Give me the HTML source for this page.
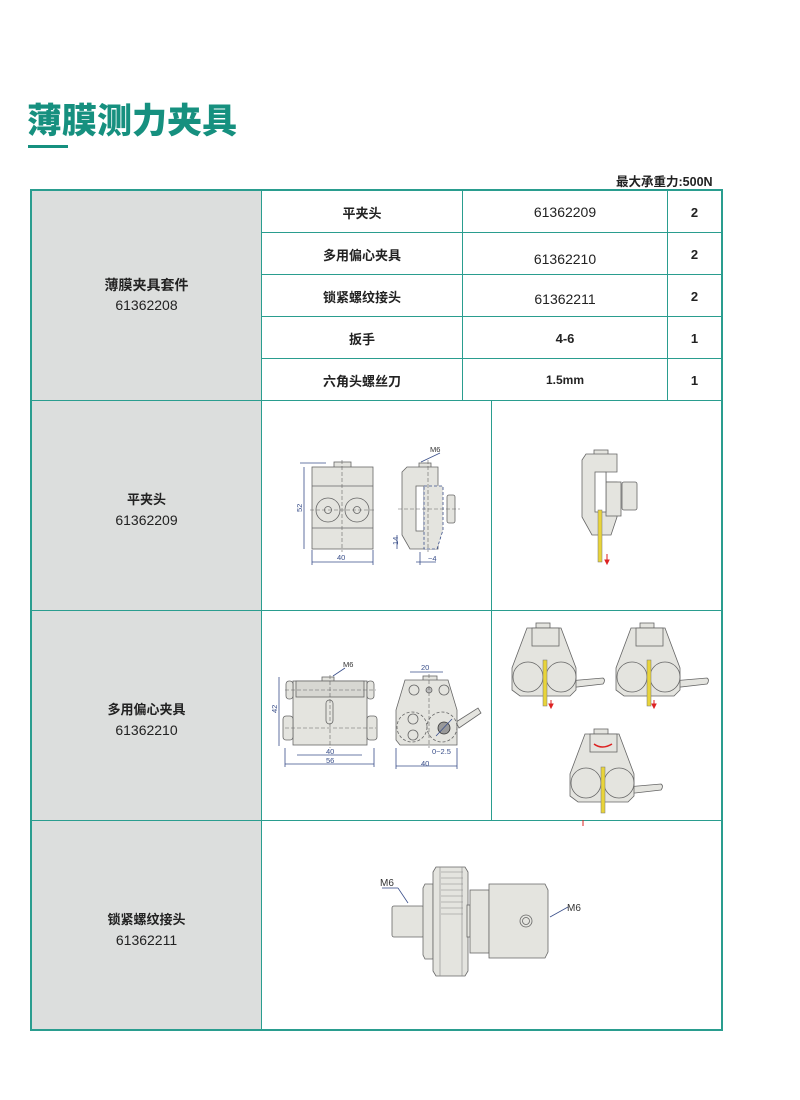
<!DOCTYPE html>
<html><head><meta charset="utf-8">
<style>
*{margin:0;padding:0;box-sizing:border-box}
body{width:800px;height:1100px;background:#fff;position:relative;overflow:hidden;font-family:"Liberation Sans","Noto Sans CJK SC",sans-serif;color:#222}
.a{position:absolute}
.t{position:absolute;display:flex;align-items:center;justify-content:center;text-align:center;font-size:13px}
.b{font-weight:bold}
.g{background:#dcdedd}
.h{position:absolute;background:#2a9d8f;height:1px}
.v{position:absolute;background:#2a9d8f;width:1px}
svg{position:absolute;left:0;top:0}
</style></head><body>
<div class="a b" style="left:27px;top:93px;font-size:35px;color:#16907f;font-family:'Liberation Sans','Noto Sans CJK SC',sans-serif;font-weight:900">薄膜测力夹具</div>
<div class="a" style="left:28px;top:145px;width:40px;height:3px;background:#16907f"></div>
<div class="a b" style="left:616px;top:171px;font-size:12.5px">最大承重力:500N</div>

<div class="a g" style="left:31px;top:190px;width:230px;height:840px"></div>

<div class="h" style="left:30px;top:189px;width:693px;height:2px"></div>
<div class="h" style="left:30px;top:1029px;width:693px;height:2px"></div>
<div class="v" style="left:30px;top:189px;height:842px;width:2px"></div>
<div class="v" style="left:721px;top:189px;height:842px;width:2px"></div>
<div class="v" style="left:261px;top:189px;height:842px"></div>
<div class="h" style="left:30px;top:400px;width:693px"></div>
<div class="h" style="left:30px;top:610px;width:693px"></div>
<div class="h" style="left:30px;top:820px;width:693px"></div>
<div class="h" style="left:261px;top:232px;width:461px"></div>
<div class="h" style="left:261px;top:274px;width:461px"></div>
<div class="h" style="left:261px;top:316px;width:461px"></div>
<div class="h" style="left:261px;top:358px;width:461px"></div>
<div class="v" style="left:462px;top:189px;height:211px"></div>
<div class="v" style="left:667px;top:189px;height:211px"></div>
<div class="v" style="left:491px;top:400px;height:420px"></div>

<div class="t" style="left:32px;top:270px;width:229px;height:50px;flex-direction:column;font-size:14px;line-height:20px"><span class="b">薄膜夹具套件</span><span>61362208</span></div>
<div class="t b" style="left:262px;top:191px;width:200px;height:42px">平夹头</div>
<div class="t" style="left:463px;top:191px;width:204px;height:42px;font-size:14px">61362209</div>
<div class="t b" style="left:668px;top:191px;width:53px;height:42px">2</div>
<div class="t b" style="left:262px;top:233px;width:200px;height:42px">多用偏心夹具</div>
<div class="t" style="left:463px;top:238px;width:204px;height:42px;font-size:14px">61362210</div>
<div class="t b" style="left:668px;top:233px;width:53px;height:42px">2</div>
<div class="t b" style="left:262px;top:275px;width:200px;height:42px">锁紧螺纹接头</div>
<div class="t" style="left:463px;top:278px;width:204px;height:42px;font-size:14px">61362211</div>
<div class="t b" style="left:668px;top:275px;width:53px;height:42px">2</div>
<div class="t b" style="left:262px;top:317px;width:200px;height:42px">扳手</div>
<div class="t b" style="left:463px;top:317px;width:204px;height:42px">4-6</div>
<div class="t b" style="left:668px;top:317px;width:53px;height:42px">1</div>
<div class="t b" style="left:262px;top:359px;width:200px;height:42px">六角头螺丝刀</div>
<div class="t b" style="left:463px;top:359px;width:204px;height:42px;font-size:12px">1.5mm</div>
<div class="t b" style="left:668px;top:359px;width:53px;height:42px">1</div>

<div class="t" style="left:32px;top:488px;width:229px;height:44px;flex-direction:column;font-size:14px;line-height:20px"><span class="b" style="font-size:13px">平夹头</span><span>61362209</span></div>
<div class="t" style="left:32px;top:698px;width:229px;height:44px;flex-direction:column;font-size:14px;line-height:20px"><span class="b" style="font-size:13px">多用偏心夹具</span><span>61362210</span></div>
<div class="t" style="left:32px;top:908px;width:229px;height:44px;flex-direction:column;font-size:14px;line-height:20px"><span class="b" style="font-size:13px">锁紧螺纹接头</span><span>61362211</span></div>

<svg width="800" height="1100" viewBox="0 0 800 1100" font-family="Liberation Sans, sans-serif">
<g fill="#e4e4df" stroke="#666" stroke-width="0.8">
 <rect x="334" y="462" width="17" height="6"/>
 <rect x="312" y="467" width="61" height="82"/>
 <line x1="312" y1="486" x2="373" y2="486"/><line x1="312" y1="528" x2="373" y2="528"/>
 <circle cx="328" cy="510" r="12"/><circle cx="357" cy="510" r="12"/>
 <circle cx="328" cy="510" r="3.5"/><circle cx="357" cy="510" r="3.5"/>
 <rect x="419" y="463" width="12" height="5"/>
 <path d="M407 467 H438 V549 H410 L402 535 V472 Z"/>
 <rect x="416" y="486" width="8" height="45" fill="#fff"/>
 <path d="M424 486 H443 V530 L437 549 H424 Z" fill="#e4e4df" stroke="#3a4f8a" stroke-dasharray="3,2"/>
 <rect x="447" y="495" width="8" height="28" rx="2"/>
 <rect x="594" y="450" width="14" height="5"/>
 <path d="M586 454 H617 V472 H606 V482 H617 V517 L611 535 H592 L582 517 V460 Z"/>
 <rect x="606" y="482" width="15" height="34"/>
 <rect x="622" y="482" width="15" height="28" rx="2"/>
 <rect x="595" y="472" width="11" height="40" fill="#fff"/>
 <rect x="322" y="677" width="12" height="5"/>
 <rect x="293" y="681" width="74" height="64"/>
 <rect x="296" y="681" width="68" height="16" fill="#d7d7d2"/>
 <rect x="286" y="681" width="7" height="18" rx="3"/><rect x="367" y="681" width="7" height="18" rx="3"/>
 <rect x="283" y="716" width="10" height="24" rx="3"/><rect x="367" y="716" width="10" height="24" rx="3"/>
 <rect x="326" y="700" width="7" height="24" rx="3.5"/>
 <path d="M456 722 L478 708 L481 713 L459 728 Z"/>
 <rect x="423" y="676" width="14" height="5"/>
 <path d="M405 680 H448 L457 710 V745 H400 L396 740 V710 Z"/>
 <circle cx="414" cy="690" r="5"/><circle cx="444" cy="690" r="5"/><circle cx="429" cy="690" r="3" fill="#bbb"/>
 <circle cx="413" cy="719" r="5"/><circle cx="413" cy="735" r="5"/>
 <circle cx="444" cy="728" r="6" fill="#999" stroke="#333"/>
 <circle cx="412" cy="727" r="15" fill="none" stroke-dasharray="3,2"/>
 <circle cx="442" cy="727" r="15" fill="none" stroke-dasharray="3,2"/>
 <g id="c1">
  <path d="M568 681 L603 678 Q606 680 603 684 L568 688 Z"/>
  <rect x="536" y="623" width="14" height="5"/>
  <path d="M527 628 H561 L576 668 V690 L570 696 H520 L512 690 V668 Z"/>
  <rect x="532" y="628" width="27" height="18"/>
  <circle cx="528" cy="677" r="15"/><circle cx="561" cy="677" r="15"/>
 </g>
 <use href="#c1" x="104"/>
 <use href="#c1" x="58" y="106"/>
 <rect x="392" y="906" width="32" height="31" rx="2"/>
 <path d="M425 884 H433 V959 H425 L423 955 V888 Z"/>
 <path d="M436 867 H465 L468 872 V971 L465 976 H436 L433 971 V872 Z"/>
 <rect x="467" y="905" width="4" height="32"/>
 <rect x="470" y="890" width="19" height="63"/>
 <path d="M489 884 H545 L548 890 V952 L545 958 H489 Z"/>
 <circle cx="526" cy="921" r="6" fill="none"/><circle cx="526" cy="921" r="3.5" fill="none"/>
</g>
<g stroke="#888" stroke-width="0.6">
 <line x1="441" y1="872" x2="463" y2="872"/><line x1="441" y1="878" x2="463" y2="878"/><line x1="441" y1="884" x2="463" y2="884"/><line x1="441" y1="890" x2="463" y2="890"/><line x1="441" y1="896" x2="463" y2="896"/><line x1="441" y1="902" x2="463" y2="902"/><line x1="441" y1="908" x2="463" y2="908"/><line x1="441" y1="914" x2="463" y2="914"/>
 <line x1="440" y1="867" x2="440" y2="976"/><line x1="462" y1="867" x2="462" y2="976"/>
</g>
<g stroke="#666" stroke-width="0.6" stroke-dasharray="4,2" fill="none">
 <line x1="342" y1="460" x2="342" y2="552"/><line x1="310" y1="510" x2="375" y2="510"/>
 <line x1="428" y1="460" x2="428" y2="552"/><line x1="398" y1="509" x2="460" y2="509"/>
 <line x1="330" y1="675" x2="330" y2="748"/><line x1="285" y1="690" x2="376" y2="690"/><line x1="285" y1="728" x2="376" y2="728"/>
 <line x1="429" y1="674" x2="429" y2="748"/>
</g>
<g fill="#e8d43a" stroke="#777" stroke-width="0.5">
 <rect x="598" y="510" width="4" height="52"/>
 <rect x="543" y="660" width="4" height="46"/>
 <rect x="647" y="660" width="4" height="46"/>
 <rect x="601" y="767" width="4" height="46"/>
</g>
<g stroke="#d22" stroke-width="1" fill="#d22">
 <line x1="607" y1="554" x2="607" y2="562"/><path d="M605 560 L607 564 L609 560 Z"/>
 <line x1="551" y1="700" x2="551" y2="706"/><path d="M549 704 L551 708 L553 704 Z"/>
 <line x1="654" y1="700" x2="654" y2="706"/><path d="M652 704 L654 708 L656 704 Z"/>
 <line x1="583" y1="820" x2="583" y2="826"/>
 <path d="M594 744 Q602 750 612 744" fill="none" stroke-width="1.5"/>
</g>
<g stroke="#3a4f8a" stroke-width="0.8" fill="none">
 <line x1="304" y1="467" x2="304" y2="549"/><line x1="300" y1="463" x2="326" y2="463"/>
 <line x1="312" y1="562" x2="373" y2="562"/><line x1="312" y1="550" x2="312" y2="565"/><line x1="373" y1="550" x2="373" y2="565"/>
 <line x1="397" y1="535" x2="397" y2="549"/>
 <line x1="416" y1="562" x2="436" y2="562"/><line x1="420" y1="552" x2="420" y2="565"/>
 <line x1="421" y1="462" x2="440" y2="453"/>
 <line x1="279" y1="677" x2="279" y2="746"/>
 <line x1="297" y1="755" x2="362" y2="755"/><line x1="285" y1="764" x2="374" y2="764"/>
 <line x1="285" y1="748" x2="285" y2="767"/><line x1="374" y1="748" x2="374" y2="767"/>
 <line x1="333" y1="676" x2="345" y2="668"/>
 <line x1="410" y1="672" x2="443" y2="672"/>
 <line x1="396" y1="766" x2="457" y2="766"/><line x1="396" y1="748" x2="396" y2="769"/><line x1="457" y1="748" x2="457" y2="769"/>
 <line x1="436" y1="736" x2="452" y2="719"/>
 <line x1="382" y1="888" x2="398" y2="888"/><line x1="398" y1="888" x2="408" y2="903"/>
 <line x1="568" y1="907" x2="550" y2="917"/>
</g>
<g fill="#3a4f8a" font-size="7.5">
 <text x="298" y="512" transform="rotate(-90 300 510)">52</text>
 <text x="337" y="560">40</text>
 <text x="390" y="547" transform="rotate(-90 393 542)">14</text>
 <text x="428" y="561">~4</text>
 <text x="430" y="452" fill="#333">M6</text>
 <text x="343" y="667" fill="#333">M6</text>
 <text x="271" y="713" transform="rotate(-90 274 710)">42</text>
 <text x="326" y="754">40</text>
 <text x="326" y="763">56</text>
 <text x="421" y="670">20</text>
 <text x="421" y="766">40</text>
 <text x="432" y="754">0~2.5</text>
</g>
<g fill="#333" font-size="10">
 <text x="380" y="886">M6</text>
 <text x="567" y="911">M6</text>
</g>
</svg>
</body></html>
